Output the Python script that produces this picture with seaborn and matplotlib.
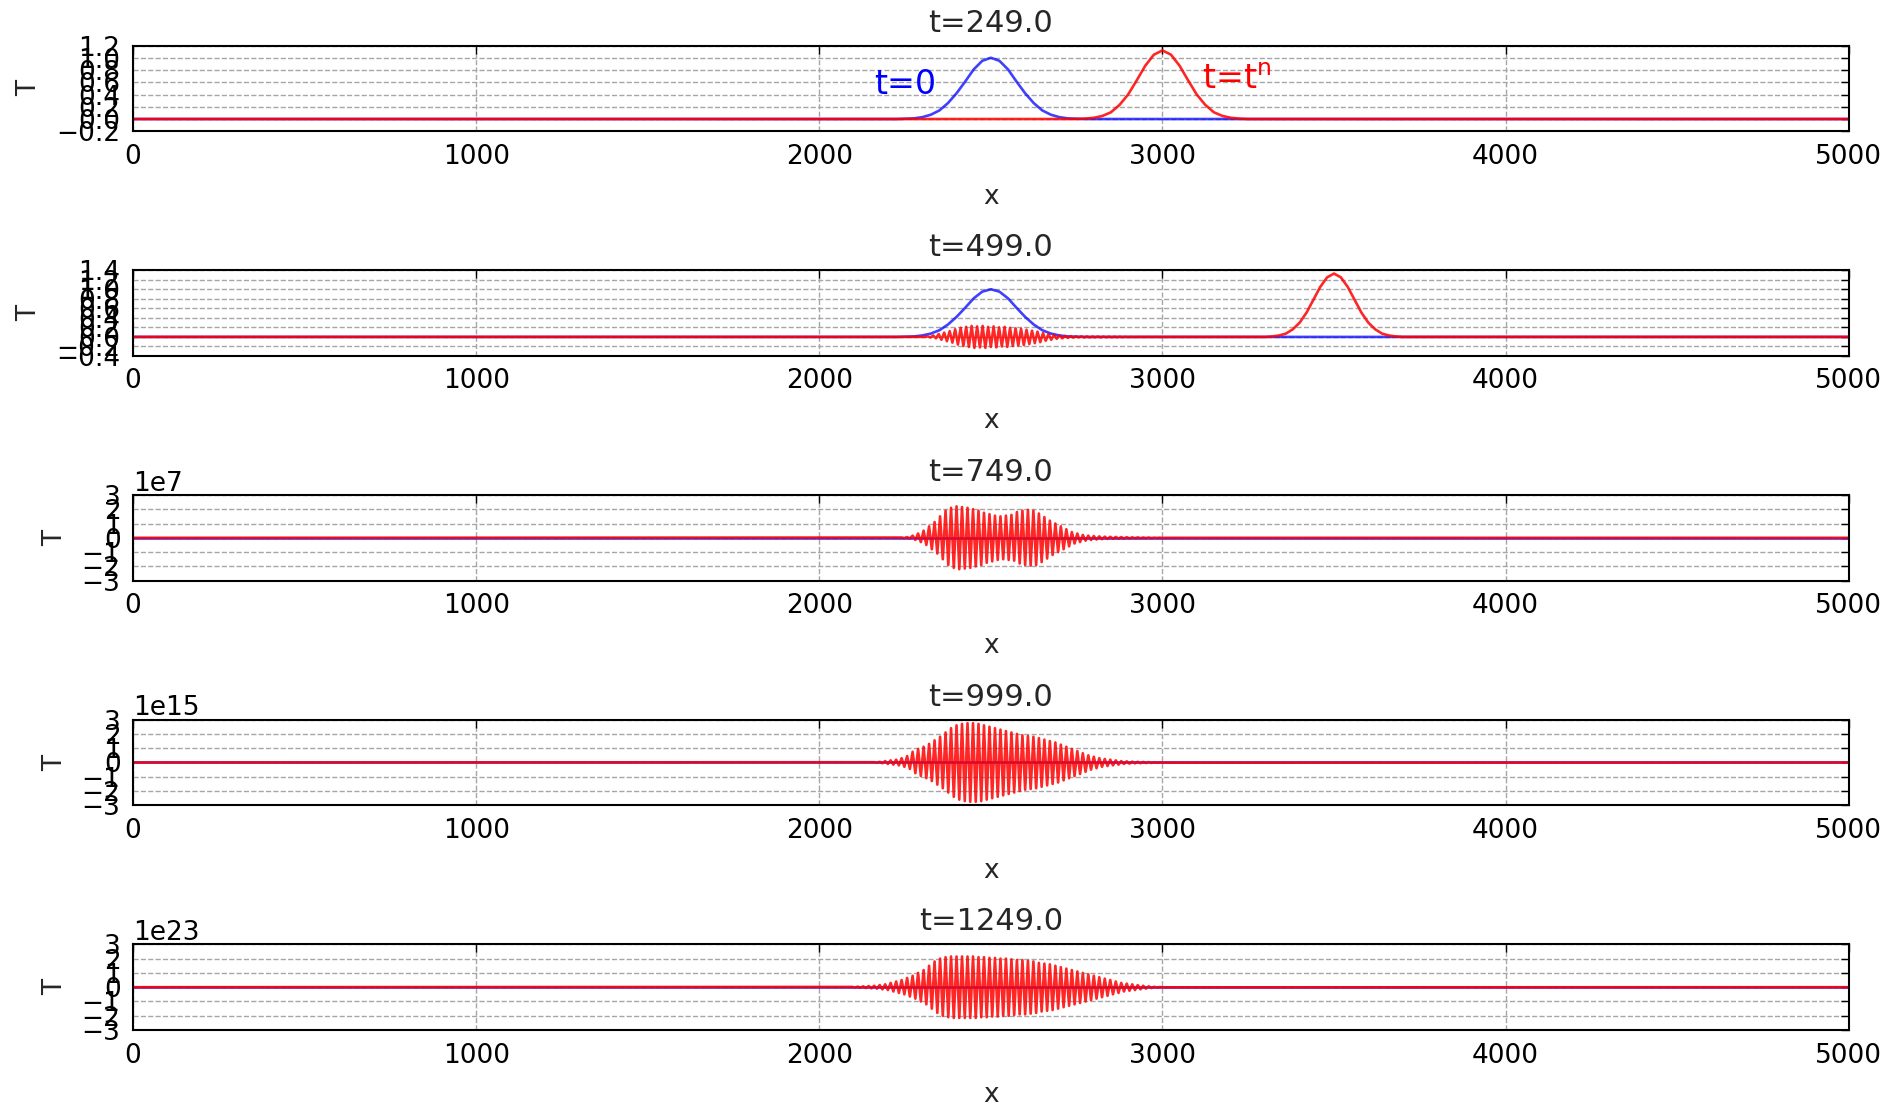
import numpy as np
import pandas as pd
import matplotlib
matplotlib.use("Agg")
import matplotlib.pyplot as plt
import seaborn as sns
from matplotlib.ticker import MultipleLocator

# panel titles and y scales
titles = ["t=249.0", "t=499.0", "t=749.0", "t=999.0", "t=1249.0"]
ylims = [(-0.2, 1.2), (-0.4, 1.4), (-3e7, 3e7), (-3e15, 3e15), (-3e23, 3e23)]
ysteps = [0.2, 0.2, 1e7, 1e15, 1e23]

# initial condition (blue), same in every panel
blue_x = [0, 2200, 2225, 2250, 2275, 2300, 2325, 2350, 2375, 2400, 2425, 2450, 2475,
          2500, 2525, 2550, 2575, 2600, 2625, 2650, 2675, 2700, 2725, 2750, 2775, 2800, 5000]
blue_T = [0, 0, 0, 0.005, 0.01, 0.03, 0.07, 0.14, 0.26, 0.42, 0.61, 0.81, 0.95,
          1.0, 0.95, 0.81, 0.61, 0.42, 0.26, 0.14, 0.07, 0.03, 0.01, 0.005, 0, 0, 0]

# t=249: pulse moved to x=3000
red1_x = [0, 2750, 2775, 2800, 2825, 2850, 2875, 2900, 2925, 2950, 2975, 3000,
          3025, 3050, 3075, 3100, 3125, 3150, 3175, 3200, 3225, 3250, 5000]
red1_T = [0, 0, 0.006, 0.02, 0.05, 0.11, 0.23, 0.40, 0.63, 0.87, 1.05, 1.12,
          1.05, 0.87, 0.63, 0.40, 0.23, 0.11, 0.05, 0.02, 0.006, 0, 0]

# t=499: pulse at x=3500 plus small grid-scale wiggle near 2500
red2_peak_x = [3300, 3320, 3340, 3360, 3380, 3400, 3420, 3440, 3460, 3480, 3500,
               3520, 3540, 3560, 3580, 3600, 3620, 3640, 3660, 3680, 3700]
red2_peak_T = [0, 0.01, 0.03, 0.07, 0.16, 0.30, 0.51, 0.78, 1.05, 1.25, 1.33,
               1.25, 1.05, 0.78, 0.51, 0.30, 0.16, 0.07, 0.03, 0.01, 0]

# wiggle amplitudes, one per 16-unit wavelength (+/- swing each)
osc2_start = 2300
osc2_amp = [0.0, 0.01, 0.03, 0.06, 0.09, 0.12, 0.16, 0.19, 0.21, 0.23, 0.22, 0.23,
            0.21, 0.22, 0.20, 0.21, 0.19, 0.18, 0.17, 0.15, 0.13, 0.11, 0.08, 0.06,
            0.04, 0.03, 0.02, 0.015, 0.01, 0.01, 0.01, 0.008, 0.008, 0.006, 0.006,
            0.005, 0.004, 0.003, 0.002, 0.0]
osc3_start = 2240   # x 1e7
osc3_amp = [0.02, 0.05, 0.15, 0.3, 0.5, 0.8, 1.1, 1.5, 1.9, 2.1, 2.2, 2.15, 2.1,
            2.0, 1.9, 1.75, 1.65, 1.55, 1.5, 1.55, 1.6, 1.8, 1.9, 1.95, 1.9, 1.7,
            1.45, 1.2, 1.0, 0.8, 0.6, 0.4, 0.3, 0.2, 0.15, 0.12, 0.1, 0.08, 0.07,
            0.06, 0.05, 0.04, 0.03, 0.03, 0.02, 0.02, 0.01, 0.01, 0.0]
osc4_start = 2160   # x 1e15
osc4_amp = [0.02, 0.05, 0.1, 0.15, 0.2, 0.3, 0.45, 0.75, 0.95, 1.1, 1.3, 1.55, 1.8,
            2.1, 2.4, 2.6, 2.7, 2.75, 2.75, 2.7, 2.6, 2.5, 2.4, 2.3, 2.2, 2.1, 2.0,
            1.9, 1.85, 1.8, 1.7, 1.6, 1.5, 1.4, 1.25, 1.1, 0.95, 0.8, 0.65, 0.5,
            0.4, 0.3, 0.25, 0.2, 0.15, 0.1, 0.08, 0.06, 0.05, 0.04, 0.03, 0.02, 0.01]
osc5_start = 2096   # x 1e23
osc5_amp = [0.02, 0.04, 0.06, 0.08, 0.1, 0.15, 0.2, 0.3, 0.4, 0.5, 0.65, 0.8, 1.0,
            1.2, 1.5, 1.8, 2.0, 2.1, 2.15, 2.15, 2.15, 2.15, 2.15, 2.1, 2.1, 2.05,
            2.05, 2.0, 2.0, 1.95, 1.9, 1.9, 1.85, 1.8, 1.7, 1.65, 1.6, 1.5, 1.4,
            1.3, 1.2, 1.1, 1.0, 0.9, 0.8, 0.7, 0.6, 0.5, 0.4, 0.3, 0.25, 0.2, 0.15,
            0.1, 0.06, 0.03, 0.01]
osc_scales = [1, 1e7, 1e15, 1e23]
wavelength = 16


def wiggle(start, amps, scale):
    # each amplitude is one up/down swing of the grid-scale mode
    xs, ts = [], []
    for k, a in enumerate(amps):
        x0 = start + wavelength * k
        xs += [x0, x0 + wavelength / 2]
        ts += [a * scale, -a * scale]
    return xs, ts


w2x, w2T = wiggle(osc2_start, osc2_amp, osc_scales[0])
red_series = [
    (red1_x, red1_T),
    ([0] + w2x + red2_peak_x + [5000], [0] + w2T + red2_peak_T + [0]),
]
for start, amps, sc in zip([osc3_start, osc4_start, osc5_start],
                           [osc3_amp, osc4_amp, osc5_amp], osc_scales[1:]):
    wx, wT = wiggle(start, amps, sc)
    red_series.append(([0] + wx + [5000], [0] + wT + [0]))

sns.set_theme(style="white")
plt.rcParams["font.family"] = ["DejaVu Sans"]
plt.rcParams["mathtext.fontset"] = "dejavusans"
plt.rcParams["mathtext.default"] = "regular"

fig, axes = plt.subplots(5, 1, figsize=(19, 11.1), dpi=100)
fig.subplots_adjust(left=0.07, right=0.973, top=0.959, bottom=0.072, hspace=1.62)

for i, ax in enumerate(axes):
    df_b = pd.DataFrame({"x": blue_x, "T": blue_T})
    rx, rT = red_series[i]
    df_r = pd.DataFrame({"x": rx, "T": rT})
    sns.lineplot(data=df_b, x="x", y="T", ax=ax, color="#0000ff", lw=1.9,
                 alpha=0.75, estimator=None, sort=False)
    sns.lineplot(data=df_r, x="x", y="T", ax=ax, color="#ff0000", lw=1.9,
                 alpha=0.85, estimator=None, sort=False)
    ax.set_xlim(0, 5000)
    ax.set_ylim(*ylims[i])
    ax.xaxis.set_major_locator(MultipleLocator(1000))
    ax.yaxis.set_major_locator(MultipleLocator(ysteps[i]))
    ax.grid(True, linestyle="--", color="0.65", linewidth=1)
    ax.tick_params(direction="in", top=True, right=True, length=6, width=1,
                   labelsize=19, pad=9, colors="black")
    ax.yaxis.get_offset_text().set_fontsize(19)
    for s in ax.spines.values():
        s.set_color("black")
        s.set_linewidth(1.5)
    ax.set_title(titles[i], fontsize=22, pad=10)
    ax.set_xlabel("x", fontsize=19, labelpad=10)
    ax.set_ylabel("T", fontsize=19, labelpad=10)

axes[0].text(2250, 0.57, "t=0", color="#0000ff", fontsize=24, ha="center", va="center")
axes[0].text(3115, 0.65, "t=t$^{n}$", color="#ff0000", fontsize=24, ha="left", va="center")

fig.savefig("out.png", dpi=100)
